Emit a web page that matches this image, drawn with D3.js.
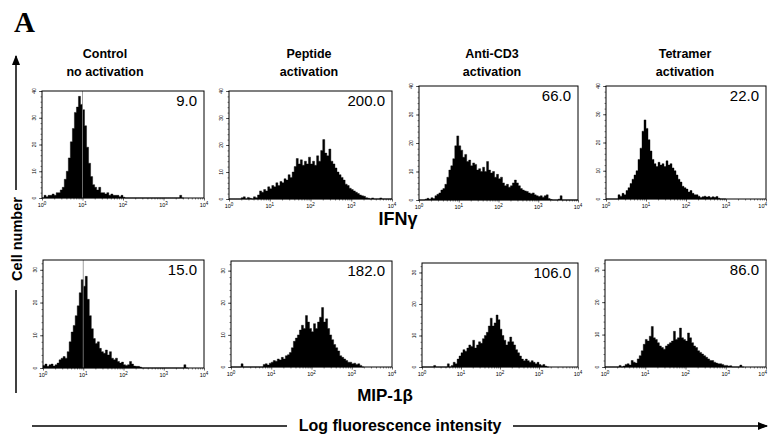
<!DOCTYPE html>
<html><head><meta charset="utf-8">
<script src="https://cdn.jsdelivr.net/npm/d3@7/dist/d3.min.js"></script>
<style>body{margin:0;background:#fff} svg{display:block}</style>
</head><body><svg id="c" width="768" height="438"></svg>
<script>
// ---------- DATA ----------
const titleLine1 = ["Control", "Peptide", "Anti-CD3", "Tetramer"];
const titleLine2 = ["no activation", "activation", "activation", "activation"];
const rowMarkers = ["IFNγ", "MIP-1β"];
const valuesIFN = ["9.0", "200.0", "66.0", "22.0"];
const valuesMIP = ["15.0", "182.0", "106.0", "86.0"];
const yTicksTop = [0, 10, 20, 30, 40];
const yTicksBottom = [0, 10, 20, 30];
const yMaxRows = [40, 33];
const xTickExponents = [0, 1, 2, 3, 4];
const binStepLog = 0.05; // histogram channel width in log10 units
// histogram counts per channel (channel i starts at 10^(i*0.05))
const ifnControl = [0,1,0.5,1,1,1.5,1,2,2,3, 4,7,10,15,21,26,32,34,38,35, 33,27,19,13,8,5,4,3,4,2, 2,1.5,2,1,1.5,1,1,1,0.5,1, 0.3,0,0,0,0,0,0,0,0,0, 0,0,0,0,0,0,0,0,0,0, 0,0,0,0,0,0,0,0,1,0];
const ifnPeptide = [0,0,0,0,0,0,0.5,0.8,0,0.6, 0.3,0,0.8,0.5,1.5,3,2.5,3.5,3,4.5, 3.8,5,4.5,6,5,6.5,6,7.5,7,9, 8,10,12,15,13,14.5,12.5,14,13,15.5, 13,14,12.5,16,14,18,22,17,16,18.5, 14,13,11.5,10,9,8,7,5.5,5,4, 3.5,3,2.5,2,1.5,1.2,1,0.5,0.3,0, 0.4,0,0,0,0.4,0,0,0,0,0];
const ifnAntiCD3 = [0,0,0,0.3,0.6,0.3,0.8,0.5,1.5,2, 2.5,3.5,4,5.5,8,10.5,12,14.5,19,22.5, 19,17.5,15,16,13.5,14,12,13,12.5,10.5, 11,10,11.5,10,13.5,10.5,9.5,10,8,9, 7.5,8,6,5,5.5,4.5,5,6,7,6, 5,4,3.5,3.2,3,2.5,2.2,2.5,1.8,1.5, 1.2,1.5,1,1.5,1.8,0.5,0.2,0,0,0, 0.3,1.5,0,0,0,0,0,0,0,0];
const ifnTetramer = [0,0,0,0,0,0,1.5,1,2,1.5, 3,4,5.5,7,8.5,10,14,18,24,28, 25,21,17,14,12.5,11.5,13,12,12.5,11.5, 13.5,12,12.5,11,10,8.5,7,6,4.5,4, 3.5,2.5,3,2,1.5,1.5,1,0.5,0.8,1, 0.7,0.9,0.5,0.8,0.6,0.9,0.3,0,0,0];
const mipControl = [0.8,1.2,0.5,1,1.2,0.6,1,1.5,2.5,3, 3.5,3,5,8,11,13,16,19,23,27, 25,28,21,16,12,9,7.5,8,6,5, 4.5,5.5,4,5,3,2.5,3,2,1.5,1.8, 1,0.8,1,2,1.2,0.6,0.5,0.5,0.3,0, 0,0,0,0,0,0,0,0,0,0, 0,0,0,0,0,0,0,0,0,0, 1,0];
const mipPeptide = [0,0,0,0,0,1,0,0,0,0, 0,0,0,0,0,0,0.8,1,0.6,1.2, 1.5,2,1.8,2.5,2.2,3,2.5,3.5,3.8,4.5, 6,8,9,10,11.5,13,12,16,14,12, 11,13.5,12,14,15.5,18.5,14,15,12,10, 8.5,7,6,5,3.5,3,2.5,2,1.5,1.5, 1,1.2,0.8,1,0.5,0];
const mipAntiCD3 = [0,0,0,0,0,0,0.5,0,0,0, 0,0,0,1,0,0.5,1.5,1,2.5,3.5, 4.5,5.5,5,6,7,6.5,8.5,6,7,8, 7.5,9,10,11,13,15.5,13,14,16.5,15, 12,10,8.5,7,8,9.5,8,7,5.5,4.5, 3.5,2.5,2,2.5,2,1.5,2,1.5,1,1.5, 0.8,0.5,0.8,0.3,0];
const mipTetramer = [0,0,0,0,0,0,0,0.5,0,0.3, 0.8,1,0.6,2,1.5,1.2,2.5,3.5,5,7, 8.5,8,9.5,12.5,9,8.5,7.5,6.5,6,5.5, 6.5,7,7.5,8,11,8.5,9,12,9,8.5, 8,10.5,9,7.5,6.5,6,5,4.5,4,3.5, 3,2.5,2,2,1.5,1.2,1,1,0.8,0.5, 0.5,0.3,0.4,0,0,0,0,0.6,0];
const markerLineExp = [1, null, null, null, 1, null, null, null]; // gate marker at 10^1
const histograms = [ifnControl, ifnPeptide, ifnAntiCD3, ifnTetramer, mipControl, mipPeptide, mipAntiCD3, mipTetramer];
const valueLabels = valuesIFN.concat(valuesMIP);

// ---------- LAYOUT ----------
const boxes = [
  [42, 91, 204, 198], [229, 91, 392, 199], [419, 86, 578, 200], [606, 86, 766, 199],
  [43, 260, 204, 368], [231, 261, 392, 367], [422, 263, 578, 367], [605, 260, 766, 367]
];
const titleCenters = [105, 309, 492, 685];
const sans = "'Liberation Sans', Arial, Helvetica, sans-serif";

const svg = d3.select("#c");
svg.append("rect").attr("width", 768).attr("height", 438).attr("fill", "#fff");

// Panel letter
svg.append("text").attr("x", 14).attr("y", 32).text("A")
  .attr("font-family", "'Liberation Serif', 'DejaVu Serif', serif").attr("font-weight", "bold").attr("font-size", 29);

// column titles
titleLine1.forEach((t, i) => {
  const g = svg.append("text").attr("text-anchor", "middle").attr("font-family", sans)
    .attr("font-weight", "bold").attr("font-size", 12.5);
  g.append("tspan").attr("x", titleCenters[i]).attr("y", 58).text(t);
  g.append("tspan").attr("x", titleCenters[i]).attr("y", 76).text(titleLine2[i]);
});

// panels
histograms.forEach((hist, k) => {
  const row = k < 4 ? 0 : 1;
  const [x0, y0, x1, y1] = boxes[k];
  const x = d3.scaleLog().domain([1, 1e4]).range([x0, x1]);
  const y = d3.scaleLinear().domain([0, yMaxRows[row]]).range([y1, y0]);
  const g = svg.append("g");

  // histogram as stepped area
  const pts = hist.map((v, i) => ({e: i * binStepLog, v}));
  pts.push({e: hist.length * binStepLog, v: 0});
  const area = d3.area().curve(d3.curveStepAfter)
    .x(d => x(Math.pow(10, d.e))).y0(y(0)).y1(d => y(d.v));
  g.append("path").datum(pts).attr("d", area).attr("fill", "#000").attr("stroke", "#000").attr("stroke-width", 0.4);

  // marker line
  if (markerLineExp[k] !== null) {
    const mx = x(Math.pow(10, markerLineExp[k]));
    g.append("line").attr("x1", mx).attr("x2", mx).attr("y1", y(0)).attr("y2", y0)
      .attr("stroke", "#888").attr("stroke-width", 0.8);
  }

  // frame
  g.append("rect").attr("x", x0).attr("y", y0).attr("width", x1 - x0).attr("height", y1 - y0)
    .attr("fill", "none").attr("stroke", "#000").attr("stroke-width", 1);

  // y axis
  const yt = row === 0 ? yTicksTop : yTicksBottom;
  const yAxis = d3.axisLeft(y).tickValues(yt).tickSize(3).tickFormat("");
  const ya = g.append("g").attr("transform", `translate(${x0},0)`).call(yAxis);
  ya.select(".domain").remove();
  ya.selectAll("line").attr("stroke-width", 0.6);
  const minorY = d3.range(0, yMaxRows[row] + 0.01, 2);
  g.append("g").attr("transform", `translate(${x0},0)`).call(d3.axisLeft(y).tickValues(minorY).tickSize(1.5).tickFormat(""))
    .call(s => s.select(".domain").remove()).selectAll("line").attr("stroke-width", 0.5);
  yt.forEach(t => {
    g.append("text").attr("transform", `translate(${x0 - 6},${y(t)}) rotate(-90)`)
      .attr("text-anchor", "middle").attr("font-family", sans).attr("font-size", 5).text(t);
  });

  // x axis
  const xa = g.append("g").attr("transform", `translate(0,${y1})`)
    .call(d3.axisBottom(x).tickValues(xTickExponents.map(e => Math.pow(10, e))).tickSize(2.5).tickFormat(""));
  xa.select(".domain").remove();
  xa.selectAll("line").attr("stroke-width", 0.6);
  const minorX = [];
  [0, 1, 2, 3].forEach(e => d3.range(2, 10).forEach(m => minorX.push(m * Math.pow(10, e))));
  g.append("g").attr("transform", `translate(0,${y1})`)
    .call(d3.axisBottom(x).tickValues(minorX).tickSize(1.5).tickFormat(""))
    .call(s => s.select(".domain").remove()).selectAll("line").attr("stroke-width", 0.5);
  xTickExponents.forEach(e => {
    const px = x(Math.pow(10, e));
    const nearEdge = px > 760;
    const t = g.append("text").attr("x", nearEdge ? 767 : px).attr("y", y1 + 9)
      .attr("text-anchor", nearEdge ? "end" : "middle").attr("font-family", sans).attr("font-size", 5.5);
    t.append("tspan").text("10");
    t.append("tspan").attr("dy", -2.5).attr("font-size", 4.5).text(e);
  });

  // value label
  g.append("text").attr("x", x1 - 7).attr("y", y0 + 15).attr("text-anchor", "end")
    .attr("font-family", sans).attr("font-size", 15).text(valueLabels[k]);
});

// row markers
svg.append("text").attr("x", 398).attr("y", 225).attr("text-anchor", "middle").attr("font-family", sans)
  .attr("font-weight", "bold").attr("font-size", 18).text(rowMarkers[0]);
svg.append("text").attr("x", 385).attr("y", 401).attr("text-anchor", "middle").attr("font-family", sans)
  .attr("font-weight", "bold").attr("font-size", 17).text(rowMarkers[1]);

// axis titles and arrows
svg.append("defs").append("marker").attr("id", "ah").attr("viewBox", "0 0 10 10").attr("refX", 9).attr("refY", 5)
  .attr("markerWidth", 7).attr("markerHeight", 7).attr("orient", "auto")
  .append("path").attr("d", "M0,1 L10,5 L0,9 Z").attr("fill", "#000");

svg.append("text").attr("transform", "translate(22,239) rotate(-90)").attr("text-anchor", "middle")
  .attr("font-family", sans).attr("font-weight", "bold").attr("font-size", 14.5).text("Cell number");
svg.append("line").attr("x1", 16).attr("x2", 16).attr("y1", 190).attr("y2", 56)
  .attr("stroke", "#000").attr("stroke-width", 1.5).attr("marker-end", "url(#ah)");
svg.append("line").attr("x1", 16).attr("x2", 16).attr("y1", 290).attr("y2", 393)
  .attr("stroke", "#000").attr("stroke-width", 1.5);

svg.append("text").attr("x", 400).attr("y", 431).attr("text-anchor", "middle")
  .attr("font-family", sans).attr("font-weight", "bold").attr("font-size", 16).text("Log fluorescence intensity");
svg.append("line").attr("x1", 32).attr("x2", 287).attr("y1", 426).attr("y2", 426)
  .attr("stroke", "#000").attr("stroke-width", 1.5);
svg.append("line").attr("x1", 513).attr("x2", 767).attr("y1", 426).attr("y2", 426)
  .attr("stroke", "#000").attr("stroke-width", 1.5).attr("marker-end", "url(#ah)");
</script></body></html>
